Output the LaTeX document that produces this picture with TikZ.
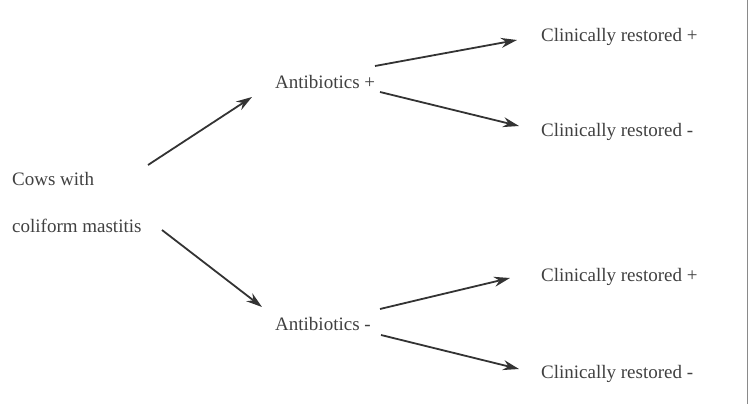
\documentclass[tikz,border=0pt]{standalone}
\usepackage{fontspec}
\setmainfont{Liberation Serif}
\usetikzlibrary{arrows.meta,positioning}
\definecolor{txtgray}{HTML}{404040}
\definecolor{arrdark}{HTML}{333333}
\definecolor{edgegray}{HTML}{8A8A8A}

\begin{document}
\begin{tikzpicture}[
  x=1pt, y=-1pt,
  lbl/.style={anchor=base west, inner sep=0pt, font=\fontsize{19}{23}\selectfont, text=txtgray},
  arr/.style={draw=arrdark, line width=1.8pt, -{Stealth[length=16pt,width=10pt]}},
]
\useasboundingbox (0,0) rectangle (753,404);
% right frame line
\draw[edgegray, line width=1.6pt] (747.5,0) -- (747.5,404);

% text (baselines at pixel positions)
\node[lbl] (cowsA)   at (12,185)    {Cows with};
\node[lbl] (cowsB)   at (12,232.7)  {coliform mastitis};
\node[lbl] (abplus)  at (275,88.3)  {Antibiotics +};
\node[lbl] (abminus) at (275,330.7) {Antibiotics -};
\node[lbl] (crpp)    at (541,41.7)  {Clinically restored +};
\node[lbl] (crpm)    at (541,136.7) {Clinically restored -};
\node[lbl] (crmp)    at (541,281.7) {Clinically restored +};
\node[lbl] (crmm)    at (541,378.7) {Clinically restored -};

% first split
\draw[arr] ([xshift=136pt,yshift=20pt]cowsA.base west)  -- ([xshift=-23pt,yshift=-8.7pt]abplus.base west);
\draw[arr] ([xshift=150pt,yshift=2.7pt]cowsB.base west) -- ([xshift=-13pt,yshift=23.7pt]abminus.base west);
% second split
\draw[arr] ([xshift=100pt,yshift=22.3pt]abplus.base west)  -- ([xshift=-24pt,yshift=1.7pt]crpp.base west);
\draw[arr] ([xshift=105pt,yshift=-3.7pt]abplus.base west)  -- ([xshift=-22pt,yshift=10.7pt]crpm.base west);
\draw[arr] ([xshift=105pt,yshift=21.7pt]abminus.base west) -- ([xshift=-31pt,yshift=3.7pt]crmp.base west);
\draw[arr] ([xshift=106pt,yshift=-4.3pt]abminus.base west) -- ([xshift=-22pt,yshift=9.7pt]crmm.base west);
\end{tikzpicture}
\end{document}
